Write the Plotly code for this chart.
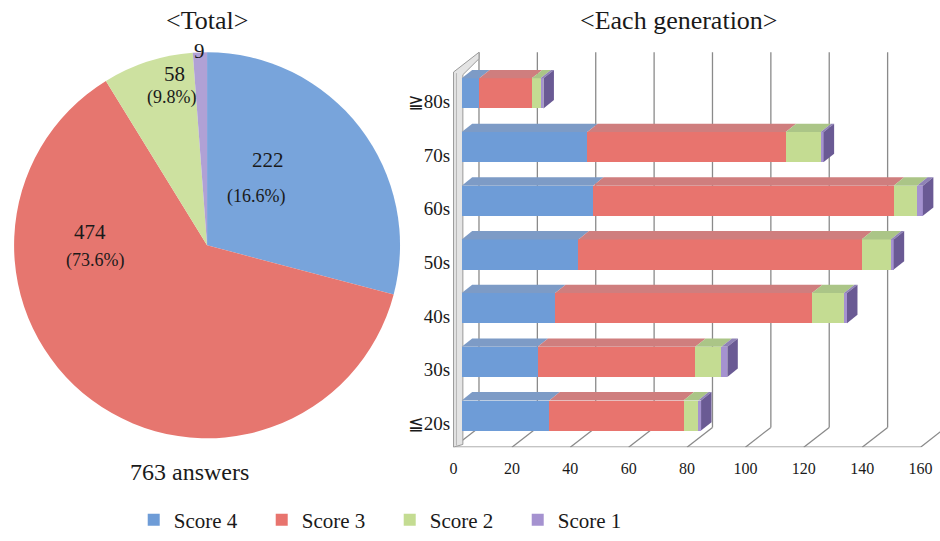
import plotly.graph_objects as go

W, H = 940, 541
FONT = "Liberation Serif"

# ---------------- data ----------------
score_names = ["Score 4", "Score 3", "Score 2", "Score 1"]
pie_values = [222, 474, 58, 9]
pie_count_labels = ["222", "474", "58", "9"]
pie_pct_labels = ["(16.6%)", "(73.6%)", "(9.8%)", ""]
total_label = "763 answers"

generations = ["≦20s", "30s", "40s", "50s", "60s", "70s", "≧80s"]
score4 = [30, 26, 32, 40, 45, 43, 6]
score3 = [46, 54, 88, 97, 103, 68, 18]
score2 = [5, 9, 11, 10, 8, 12, 3]
score1 = [1, 2, 1, 1, 2, 1, 1]
x_ticks = [0, 20, 40, 60, 80, 100, 120, 140, 160]

# ---------------- style ----------------
front_colors = ["#6e9cd7", "#e8746e", "#c4dc92", "#a592d0"]
top_colors = ["#7d9bc6", "#cf7e7e", "#abc587", "#8f82b6"]
side_colors = ["#4e75a8", "#b55550", "#8faa60", "#6a5a94"]
pie_colors = ["#78a4db", "#e6766f", "#cde1a0", "#b0a1d5"]

# ---------------- geometry helpers (pixel -> paper) ----------------
def px(x):
    return x / W

def py(y):
    return 1 - y / H

# bar axis: value v -> pixel 460.7 + 2.925 v ; index y -> pixel 429 - 54.4 y
X0, XS = 460.7, 2.925
Y0, YS = 429.0, 54.4
x_range = [(450 - X0) / XS, (W - X0) / XS]
y_bottom_px = 453
y_range = [(Y0 - y_bottom_px) / YS, Y0 / YS]

bar_w = 30.5 / YS
bar_off = 8 / YS - bar_w / 2
dx = 10.5 / XS           # depth of bars (x units)
dy = 8.5 / YS            # depth of bars (y units)
back_shift = (478 - X0) / XS
front_shift = (452.5 - X0) / XS
grid_top = (Y0 - 53) / YS
grid_bot = (Y0 - 433) / YS
floor_y = (Y0 - y_bottom_px) / YS

fig = go.Figure()

# ---------------- pie ----------------
fig.add_trace(go.Pie(
    values=pie_values, labels=score_names, sort=False, direction="clockwise",
    rotation=0, marker=dict(colors=pie_colors, line=dict(width=0)),
    textinfo="none", hoverinfo="label+value", showlegend=False,
    domain=dict(x=[px(11), px(400)], y=[py(444), py(53)]),
))

# ---------------- stacked bars (front faces) ----------------
series = [score4, score3, score2, score1]
ypos = list(range(len(generations)))
for name, vals, col in zip(score_names, series, front_colors):
    fig.add_trace(go.Bar(
        y=ypos, x=vals, name=name, orientation="h",
        width=bar_w, offset=bar_off,
        marker=dict(color=col, line=dict(width=0)),
        xaxis="x", yaxis="y",
    ))

# ---------------- 3D top & side faces, derived from the data ----------------
for gi in ypos:
    left = 0.0
    top = gi + bar_off + bar_w
    bottom = gi + bar_off
    last_idx = max(i for i in range(4) if series[i][gi] > 0)
    for si in range(4):
        v = series[si][gi]
        if v <= 0:
            continue
        right = left + v
        fig.add_trace(go.Scatter(
            x=[left, right, right + dx, left + dx, left],
            y=[top, top, top + dy, top + dy, top],
            fill="toself", fillcolor=top_colors[si], mode="lines",
            line=dict(width=0), hoverinfo="skip", showlegend=False,
            xaxis="x", yaxis="y",
        ))
        left = right
    fig.add_trace(go.Scatter(
        x=[left, left + dx, left + dx, left, left],
        y=[top, top + dy, bottom + dy, bottom, top],
        fill="toself", fillcolor=side_colors[last_idx], mode="lines",
        line=dict(width=0), hoverinfo="skip", showlegend=False,
        xaxis="x", yaxis="y",
    ))

# ---------------- walls / gridlines ----------------
shapes = []
for t in x_ticks:
    xb = t + back_shift
    xf = t + front_shift
    if t > 0:
        shapes.append(dict(type="line", xref="x", yref="y", x0=xb, x1=xb,
                           y0=grid_bot, y1=grid_top, layer="below",
                           line=dict(color="#8a8a8a", width=1.3)))
    shapes.append(dict(type="line", xref="x", yref="y", x0=xb, x1=xf,
                       y0=grid_bot, y1=floor_y, layer="below",
                       line=dict(color="#8a8a8a", width=1.3)))
# floor front edge
shapes.append(dict(type="line", xref="x", yref="y",
                   x0=x_ticks[0] + front_shift, x1=x_ticks[-1] + front_shift,
                   y0=floor_y, y1=floor_y, layer="below",
                   line=dict(color="#8a8a8a", width=1.3)))
# left wall: back edge, top edge and front strip
wall_top_front = (Y0 - 73) / YS
shapes.append(dict(type="line", xref="x", yref="y", x0=back_shift, x1=back_shift,
                   y0=grid_bot, y1=grid_top, layer="below",
                   line=dict(color="#8a8a8a", width=1.3)))
shapes.append(dict(type="path", xref="x", yref="y", layer="below",
                   path=f"M {front_shift},{floor_y} L {front_shift},{wall_top_front} "
                        f"L {back_shift},{grid_top} L {back_shift},{grid_top - 0.12} "
                        f"L {front_shift + 3.2},{wall_top_front - 0.05} "
                        f"L {front_shift + 3.2},{floor_y + 0.05} Z",
                   fillcolor="#e4e4e4", line=dict(color="#9a9a9a", width=1)))
shapes.append(dict(type="line", xref="x", yref="y",
                   x0=front_shift + 1.0, x1=front_shift + 1.0,
                   y0=floor_y + 0.03, y1=wall_top_front - 0.02, layer="below",
                   line=dict(color="#b5b5b5", width=1)))

# ---------------- annotations ----------------
ann = []
def text(x, y, s, size, color="#1a1a1a"):
    ann.append(dict(x=px(x), y=py(y), xref="paper", yref="paper", text=s,
                    showarrow=False, xanchor="center", yanchor="middle",
                    font=dict(family=FONT, size=size, color=color)))

text(205, 21, "&lt;Total&gt;", 26)
text(678, 21, "&lt;Each generation&gt;", 26)
text(188, 478, total_label, 24)

count_pos = [(267, 162), (88, 235), (173, 75), (198, 52)]
pct_pos = [(255, 199), (93, 264), (170, 99), None]
for lab, p in zip(pie_count_labels, count_pos):
    text(p[0], p[1], lab, 21)
for lab, p in zip(pie_pct_labels, pct_pos):
    if p is not None and lab:
        text(p[0], p[1], lab, 18)

fig.update_layout(
    width=W, height=H, margin=dict(l=0, r=0, t=0, b=0),
    paper_bgcolor="white", plot_bgcolor="rgba(0,0,0,0)",
    barmode="stack", showlegend=True,
    font=dict(family=FONT, color="#1a1a1a"),
    xaxis=dict(domain=[px(450), 1], range=x_range, anchor="y",
               showgrid=False, zeroline=False, showline=False,
               showticklabels=False, ticks=""),
    xaxis2=dict(overlaying="x", anchor="y", side="bottom",
                range=[(450 - 452.5) / XS, (W - 452.5) / XS],
                tickmode="array", tickvals=x_ticks,
                ticktext=[str(t) for t in x_ticks],
                showgrid=False, zeroline=False, showline=False, ticks="",
                ticklabelstandoff=10,
                tickfont=dict(family=FONT, size=16, color="#1a1a1a")),
    yaxis=dict(domain=[py(y_bottom_px), 1], range=y_range, anchor="x",
               tickmode="array", tickvals=ypos, ticktext=generations,
               showgrid=False, zeroline=False, showline=False, ticks="",
               tickfont=dict(family=FONT, size=19, color="#1a1a1a")),
    legend=dict(orientation="h", x=px(132), y=py(527), xanchor="left",
                yanchor="middle", traceorder="normal",
                font=dict(family=FONT, size=21, color="#1a1a1a"),
                entrywidth=83, entrywidthmode="pixels", bgcolor="rgba(0,0,0,0)"),
    shapes=shapes, annotations=ann,
)

# an invisible trace keeps xaxis2 active
fig.add_trace(go.Scatter(x=[0], y=[0], xaxis="x2", yaxis="y", mode="markers",
                         marker=dict(opacity=0), hoverinfo="skip", showlegend=False))

fig.write_html("out.html")
